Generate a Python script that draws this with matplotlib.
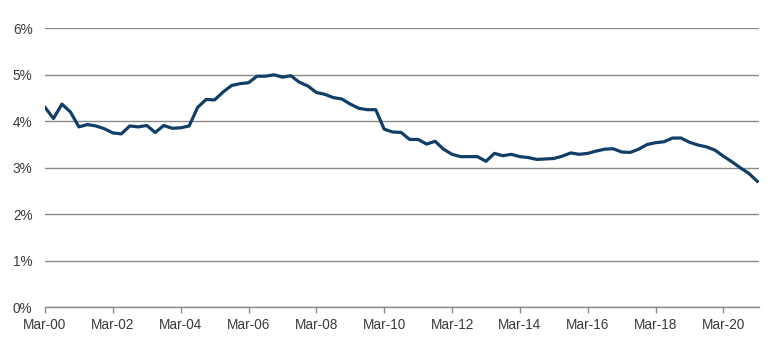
import matplotlib
matplotlib.use("Agg")
import matplotlib.pyplot as plt
import numpy as np

# quarterly series, Mar-00 onwards (%)
values = [
    4.30, 4.06, 4.37, 4.20, 3.88, 3.93, 3.90, 3.84, 3.75, 3.73,
    3.90, 3.88, 3.91, 3.76, 3.91, 3.85, 3.86, 3.90, 4.30, 4.47,
    4.46, 4.63, 4.77, 4.81, 4.83, 4.97, 4.97, 5.00, 4.95, 4.98,
    4.84, 4.76, 4.62, 4.58, 4.51, 4.48, 4.37, 4.28, 4.25, 4.25,
    3.83, 3.77, 3.76, 3.61, 3.61, 3.51, 3.57, 3.40, 3.29, 3.24,
    3.24, 3.24, 3.14, 3.31, 3.26, 3.29, 3.24, 3.22, 3.18, 3.19,
    3.20, 3.25, 3.32, 3.29, 3.31, 3.36, 3.40, 3.41, 3.34, 3.33,
    3.40, 3.50, 3.54, 3.56, 3.64, 3.64, 3.55, 3.49, 3.45, 3.38,
    3.25, 3.13, 3.00, 2.88, 2.71,
]
tick_labels = ["Mar-00", "Mar-02", "Mar-04", "Mar-06", "Mar-08", "Mar-10",
               "Mar-12", "Mar-14", "Mar-16", "Mar-18", "Mar-20"]
y_ticks = [0, 1, 2, 3, 4, 5, 6]

plt.rcParams["font.family"] = ["Liberation Sans", "DejaVu Sans"]

fig = plt.figure(figsize=(7.7, 3.54), dpi=100)
ax = fig.add_axes([45 / 770, 0.132, (759 - 45) / 770, 0.788])

x = np.arange(len(values))
ax.plot(x, values, color="#113e67", lw=2.3, solid_joinstyle="round", zorder=3)

ax.set_ylim(0, 6)
ax.set_xlim(0, 84.2)
ax.set_yticks(y_ticks)
ax.set_yticklabels([f"{v}%" for v in y_ticks])
ax.set_xticks(np.arange(0, 8 * len(tick_labels), 8))
ax.set_xticklabels(tick_labels)

ax.grid(axis="y", color="#8a8a8a", lw=1.0)
ax.set_axisbelow(True)
for s in ["top", "right", "left"]:
    ax.spines[s].set_visible(False)
ax.spines["bottom"].set_color("#8a8a8a")
ax.spines["bottom"].set_linewidth(1.0)

ax.tick_params(axis="y", length=0, pad=9, labelsize=9.8, labelcolor="#3a3a3a")
ax.tick_params(axis="x", length=4, width=1.0, color="#8a8a8a", pad=4,
               labelsize=9.8, labelcolor="#3a3a3a")

fig.savefig("out.png", dpi=100)
